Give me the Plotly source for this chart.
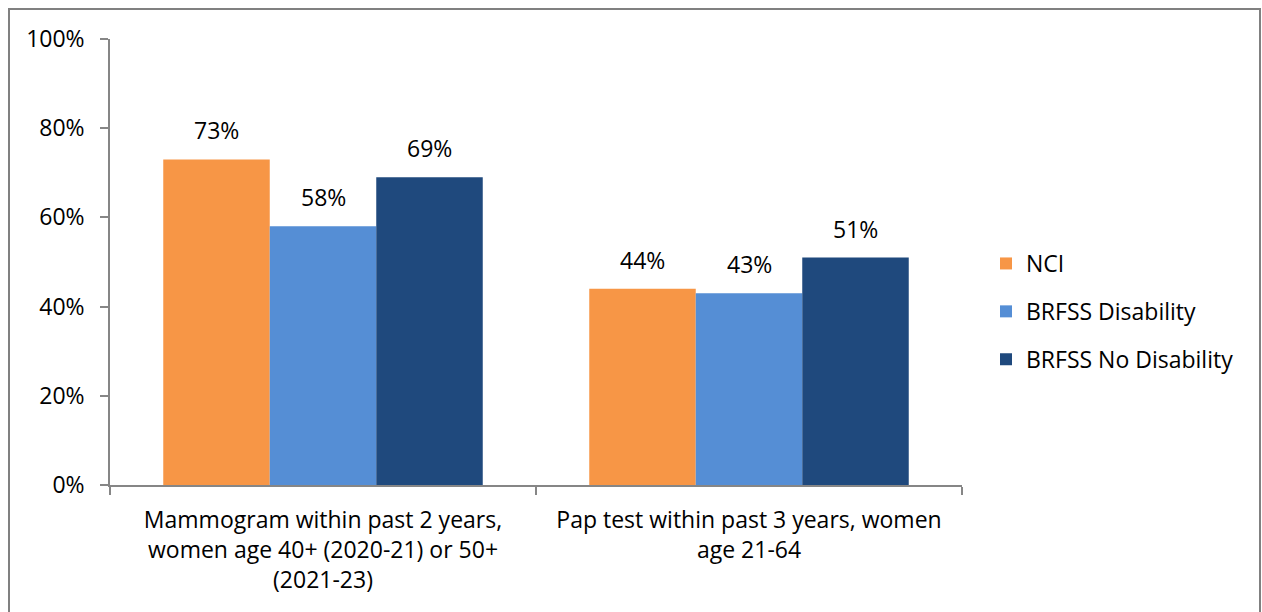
import plotly.graph_objects as go

categories = [
    "Mammogram within past 2 years,<br>women age 40+ (2020-21) or 50+<br>(2021-23)",
    "Pap test within past 3 years, women<br>age 21-64",
]
series_names = ["NCI", "BRFSS Disability", "BRFSS No Disability"]
series_values = [
    [73, 44],
    [58, 43],
    [69, 51],
]
series_colors = ["#F79646", "#558ED5", "#1F497D"]
y_tick_values = [0, 20, 40, 60, 80, 100]
y_tick_labels = ["0%", "20%", "40%", "60%", "80%", "100%"]

FONT = "Open Sans, sans-serif"
FS = 23
W, H = 1262, 612
ML, MR, MT, MB = 110, 300, 39, 127

fig = go.Figure()
for i, (name, vals, col) in enumerate(zip(series_names, series_values, series_colors)):
    fig.add_trace(go.Bar(
        name=name,
        x=categories,
        y=vals,
        marker=dict(color=col, line=dict(width=0)),
        legendgroup=f"g{i}",
        hoverinfo="skip",
    ))

# value labels above each bar, offset within its group
n = len(series_names)
bargap = 0.25
bw = (1 - bargap) / n
annotations = []
for i, vals in enumerate(series_values):
    for j, v in enumerate(vals):
        xc = j - (1 - bargap) / 2 + bw * (i + 0.5)
        annotations.append(dict(
            x=xc, y=v, xref="x", yref="y", text=f"{v}%", showarrow=False,
            yanchor="bottom", yshift=11, font=dict(family=FONT, size=FS, color="#000000"),
        ))

pw = W - ML - MR
ph = H - MT - MB
def px_x(p):
    return (p - ML) / pw
def px_y(p):
    return (H - MB - p) / ph

fig.update_layout(
    width=W, height=H,
    margin=dict(l=ML, r=MR, t=MT, b=MB, autoexpand=False),
    paper_bgcolor="white", plot_bgcolor="white",
    barmode="group", bargap=bargap, bargroupgap=0,
    font=dict(family=FONT, size=FS, color="#000000"),
    showlegend=True,
    legend=dict(
        x=px_x(986), y=px_y(242), xanchor="left", yanchor="top",
        font=dict(family=FONT, size=FS, color="#000000"),
        tracegroupgap=15, itemwidth=30, bgcolor="rgba(0,0,0,0)",
    ),
    annotations=annotations,
    shapes=[dict(
        type="rect", xref="paper", yref="paper",
        x0=px_x(9), x1=px_x(1260), y0=px_y(9), y1=px_y(640),
        line=dict(color="#808080", width=2), fillcolor="rgba(0,0,0,0)", layer="below",
    )],
    xaxis=dict(
        type="category", tickson="boundaries", ticks="outside", ticklen=8,
        tickcolor="#868686", tickwidth=1.5,
        showline=True, linecolor="#868686", linewidth=1.5,
        showgrid=False, zeroline=False,
        tickfont=dict(family=FONT, size=FS, color="#000000"),
        ticklabelstandoff=14,
        range=[-0.5, 1.5],
    ),
    yaxis=dict(
        range=[0, 100], tickmode="array", tickvals=y_tick_values, ticktext=y_tick_labels,
        ticks="outside", ticklen=8, tickcolor="#868686", tickwidth=1.5,
        showline=True, linecolor="#868686", linewidth=1.5,
        showgrid=False, zeroline=False,
        tickfont=dict(family=FONT, size=FS, color="#000000"),
        ticklabelstandoff=11,
    ),
)

fig.write_html("out.html")
